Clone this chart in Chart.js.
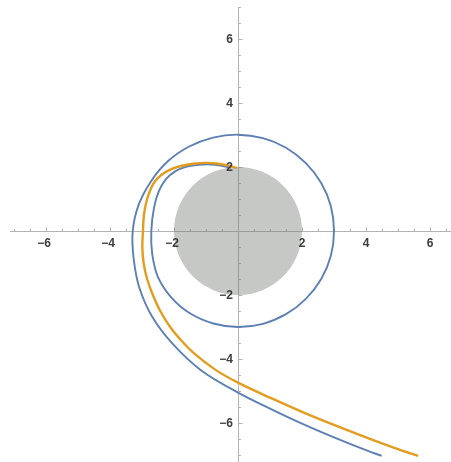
<!DOCTYPE html>
<html>
<head>
<meta charset="utf-8">
<script src="https://cdn.jsdelivr.net/npm/chart.js@4/dist/chart.umd.min.js"></script>
<style>
  html, body { margin: 0; padding: 0; background: #ffffff; }
  canvas { display: block; }
</style>
</head>
<body>
<canvas id="c" width="451" height="462"></canvas>
<script>
// Axis ticks and their labels
const majorTicks = [-6, -4, -2, 2, 4, 6];
const majorTickLabels = ['\u22126', '\u22124', '\u22122', '2', '4', '6'];
const minorStep = 0.5;

// Visible window of the plane
const xRange = [-7.125, 6.656];
const yRange = [-7.219, 7.0];

// Horizon disk
const horizonCenter = [0, 0];
const horizonRadius = 2;

// Trajectory that falls in after about half a turn
const orangePath = [
  [5.63, -7.03], [5.00, -6.82], [4.00, -6.45], [3.00, -6.06], [2.00, -5.65],
  [1.00, -5.21], [0.00, -4.74], [-0.70, -4.34], [-1.40, -3.80], [-1.81, -3.38],
  [-2.12, -3.00], [-2.43, -2.50], [-2.66, -2.00], [-2.84, -1.50], [-2.95, -1.00],
  [-2.99, -0.50], [-2.97, 0.00], [-2.94, 0.50], [-2.84, 1.00], [-2.64, 1.49],
  [-2.40, 1.75], [-2.12, 1.92], [-1.78, 2.03], [-1.40, 2.10], [-1.02, 2.13],
  [-0.67, 2.11], [-0.33, 2.05], [-0.03, 1.97]
];

// Trajectory that winds once around the r = 3 orbit before falling in
const bluePath = [
  [4.49, -7.03], [4.00, -6.85], [3.00, -6.45], [2.00, -6.02], [1.00, -5.55],
  [0.00, -5.05], [-1.16, -4.35], [-2.04, -3.53], [-2.68, -2.68], [-3.08, -1.78],
  [-3.26, -0.87], [-3.29, 0.00], [-3.10, 0.83], [-2.71, 1.565], [-2.185, 2.185],
  [-1.525, 2.64], [-0.78, 2.92], [0.00, 3.01], [0.78, 2.90], [1.50, 2.60],
  [2.12, 2.12], [2.60, 1.50], [2.90, 0.78], [3.00, 0.00], [2.90, -0.78],
  [2.60, -1.50], [2.12, -2.12], [1.50, -2.60], [0.78, -2.90], [0.00, -3.00],
  [-0.77, -2.89], [-1.49, -2.58], [-2.08, -2.08], [-2.50, -1.44], [-2.68, -0.72],
  [-2.71, 0.00], [-2.62, 0.75], [-2.47, 1.25], [-2.25, 1.62], [-1.95, 1.87],
  [-1.60, 2.01], [-1.22, 2.07], [-0.85, 2.08], [-0.52, 2.04], [-0.22, 1.98]
];

const toPoints = path => path.map(([x, y]) => ({ x, y }));

const AXIS_COLOR = '#b3b3b3';
const LABEL_COLOR = '#3c3c3c';
const LABEL_FONT = 'bold 12px "Liberation Sans", Arial, sans-serif';

function isMajor(v) {
  return majorTicks.some(t => Math.abs(t - v) < 1e-6);
}

// Axes crossing at the origin, with inward major/minor tick marks and labels
const originAxes = {
  id: 'originAxes',
  beforeDatasetsDraw(chart) {
    const { ctx, chartArea, scales: { x, y } } = chart;
    const x0 = Math.round(x.getPixelForValue(0)) + 0.5;
    const y0 = Math.round(y.getPixelForValue(0)) + 0.5;
    ctx.save();
    ctx.strokeStyle = AXIS_COLOR;
    ctx.lineWidth = 1;
    ctx.beginPath();
    ctx.moveTo(chartArea.left, y0);
    ctx.lineTo(chartArea.right, y0);
    ctx.moveTo(x0, chartArea.top);
    ctx.lineTo(x0, chartArea.bottom);

    const startX = Math.ceil(x.min / minorStep) * minorStep;
    for (let i = 0; startX + i * minorStep <= x.max; i++) {
      const v = startX + i * minorStep;
      if (Math.abs(v) < 1e-6) continue;
      const len = isMajor(v) ? 4 : 2.5;
      const px = Math.round(x.getPixelForValue(v)) + 0.5;
      ctx.moveTo(px, y0);
      ctx.lineTo(px, y0 - len);
    }
    const startY = Math.ceil(y.min / minorStep) * minorStep;
    for (let i = 0; startY + i * minorStep <= y.max; i++) {
      const v = startY + i * minorStep;
      if (Math.abs(v) < 1e-6) continue;
      const len = isMajor(v) ? 4 : 2.5;
      const py = Math.round(y.getPixelForValue(v)) + 0.5;
      ctx.moveTo(x0, py);
      ctx.lineTo(x0 + len, py);
    }
    ctx.stroke();
    ctx.restore();
  },
  afterDatasetsDraw(chart) {
    const { ctx, scales: { x, y } } = chart;
    const x0 = x.getPixelForValue(0);
    const y0 = y.getPixelForValue(0);
    ctx.save();
    ctx.fillStyle = LABEL_COLOR;
    ctx.font = LABEL_FONT;
    ctx.textBaseline = 'middle';
    ctx.textAlign = 'center';
    majorTicks.forEach((v, i) => {
      ctx.fillText(majorTickLabels[i], x.getPixelForValue(v) - (v < 0 ? 2 : 0), y0 + 13);
    });
    ctx.textAlign = 'right';
    majorTicks.forEach((v, i) => {
      ctx.fillText(majorTickLabels[i], x0 - 5, y.getPixelForValue(v) + 1);
    });
    ctx.restore();
  }
};

const horizonPixelRadius = ctx => {
  const s = ctx.chart.scales.x;
  return s.getPixelForValue(horizonRadius) - s.getPixelForValue(0);
};

new Chart(document.getElementById('c'), {
  type: 'scatter',
  data: {
    datasets: [
      {
        label: 'orange',
        data: toPoints(orangePath),
        showLine: true,
        borderColor: '#e39c1f',
        borderWidth: 2.4,
        pointRadius: 0,
        tension: 0.35,
        fill: false
      },
      {
        label: 'blue',
        data: toPoints(bluePath),
        showLine: true,
        borderColor: '#5d80b4',
        borderWidth: 1.9,
        pointRadius: 0,
        tension: 0.35,
        fill: false
      },
      {
        label: 'horizon',
        data: [{ x: horizonCenter[0], y: horizonCenter[1] }],
        showLine: false,
        backgroundColor: 'rgba(118, 124, 116, 0.42)',
        borderWidth: 0,
        pointRadius: horizonPixelRadius,
        pointHoverRadius: horizonPixelRadius
      }
    ]
  },
  options: {
    responsive: false,
    animation: false,
    devicePixelRatio: 1,
    events: [],
    layout: { padding: { left: 10, top: 7, right: 0, bottom: 0 } },
    plugins: {
      legend: { display: false },
      tooltip: { enabled: false }
    },
    scales: {
      x: { type: 'linear', display: false, min: xRange[0], max: xRange[1] },
      y: { type: 'linear', display: false, min: yRange[0], max: yRange[1] }
    }
  },
  plugins: [originAxes]
});
</script>
</body>
</html>
